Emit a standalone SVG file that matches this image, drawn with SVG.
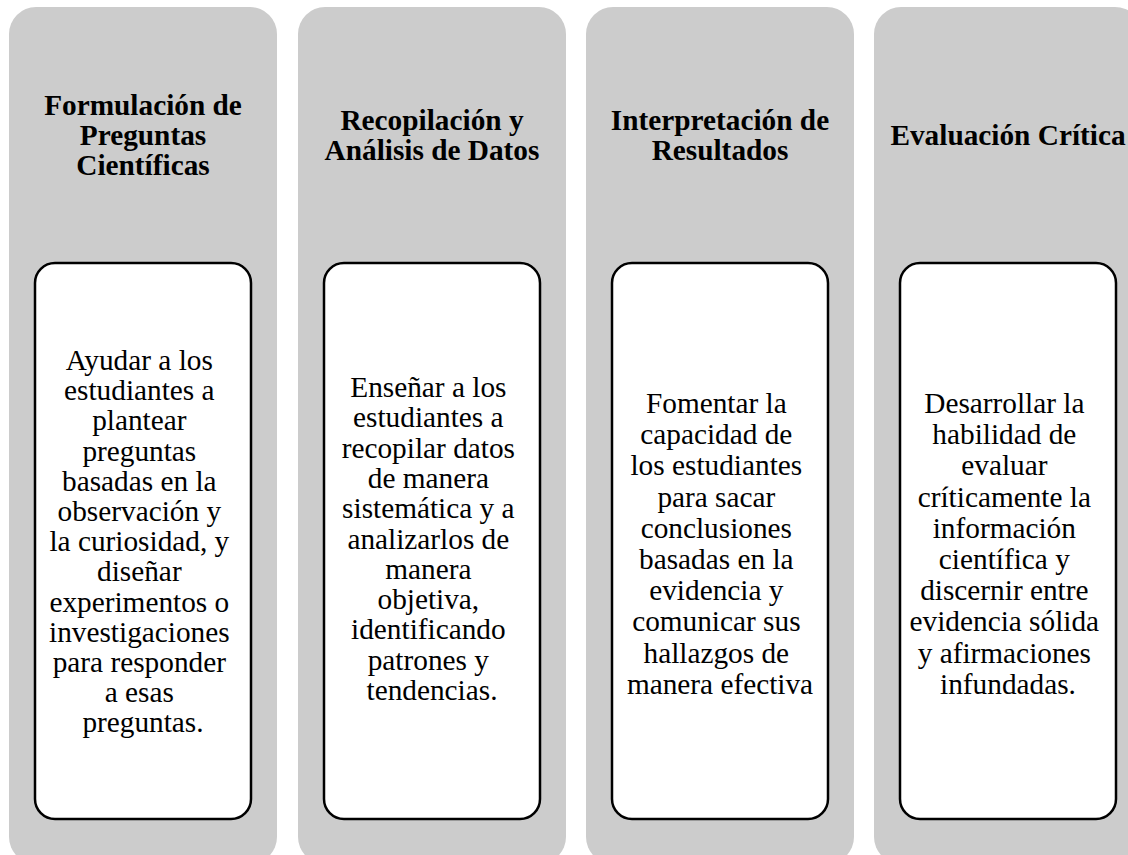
<svg xmlns="http://www.w3.org/2000/svg" width="1128" height="855" viewBox="0 0 1128 855">
<style>
.col{fill:#cccccc}
.box{fill:#ffffff;stroke:#000000;stroke-width:2.5}
.t{font-family:"Liberation Serif","Times New Roman",serif;font-size:29.3px;font-weight:bold;fill:#000;text-anchor:middle}
.b{font-family:"Liberation Serif","Times New Roman",serif;font-size:29.3px;fill:#000;text-anchor:middle}
</style>
<rect width="1128" height="855" fill="#ffffff"/>
<g id="col1">
<rect class="col" x="9" y="7" width="268" height="857" rx="27"/>
<text class="t"><tspan x="143" y="115">Formulación de</tspan><tspan x="143" y="145">Preguntas</tspan><tspan x="143" y="175">Científicas</tspan></text>
<rect class="box" x="35" y="263" width="216" height="556" rx="20"/>
<text class="b">
<tspan x="143" y="370">Ayudar a los</tspan>
<tspan x="143" y="400.2">estudiantes a</tspan>
<tspan x="143" y="430.4">plantear</tspan>
<tspan x="143" y="460.6">preguntas</tspan>
<tspan x="143" y="490.8">basadas en la</tspan>
<tspan x="143" y="521">observación y</tspan>
<tspan x="143" y="551.2">la curiosidad, y</tspan>
<tspan x="143" y="581.4">diseñar</tspan>
<tspan x="143" y="611.6">experimentos o</tspan>
<tspan x="143" y="641.8">investigaciones</tspan>
<tspan x="143" y="672">para responder</tspan>
<tspan x="143" y="702.2">a esas</tspan>
<tspan x="143" y="732.4">preguntas.</tspan>
</text>
</g>
<g id="col2">
<rect class="col" x="298" y="7" width="268" height="857" rx="27"/>
<text class="t"><tspan x="432" y="130">Recopilación y</tspan><tspan x="432" y="160">Análisis de Datos</tspan></text>
<rect class="box" x="324" y="263" width="216" height="556" rx="20"/>
<text class="b">
<tspan x="432" y="397">Enseñar a los</tspan>
<tspan x="432" y="427.3">estudiantes a</tspan>
<tspan x="432" y="457.6">recopilar datos</tspan>
<tspan x="432" y="487.9">de manera</tspan>
<tspan x="432" y="518.2">sistemática y a</tspan>
<tspan x="432" y="548.5">analizarlos de</tspan>
<tspan x="432" y="578.8">manera</tspan>
<tspan x="432" y="609.1">objetiva,</tspan>
<tspan x="432" y="639.4">identificando</tspan>
<tspan x="432" y="669.7">patrones y</tspan>
<tspan x="432" y="700">tendencias.</tspan>
</text>
</g>
<g id="col3">
<rect class="col" x="586" y="7" width="268" height="857" rx="27"/>
<text class="t"><tspan x="720" y="130">Interpretación de</tspan><tspan x="720" y="160">Resultados</tspan></text>
<rect class="box" x="612" y="263" width="216" height="556" rx="20"/>
<text class="b">
<tspan x="720" y="413">Fomentar la</tspan>
<tspan x="720" y="444.2">capacidad de</tspan>
<tspan x="720" y="475.4">los estudiantes</tspan>
<tspan x="720" y="506.6">para sacar</tspan>
<tspan x="720" y="537.8">conclusiones</tspan>
<tspan x="720" y="569">basadas en la</tspan>
<tspan x="720" y="600.2">evidencia y</tspan>
<tspan x="720" y="631.4">comunicar sus</tspan>
<tspan x="720" y="662.6">hallazgos de</tspan>
<tspan x="720" y="693.8">manera efectiva</tspan>
</text>
</g>
<g id="col4">
<rect class="col" x="874" y="7" width="268" height="857" rx="27"/>
<text class="t"><tspan x="1008" y="145">Evaluación Crítica</tspan></text>
<rect class="box" x="900" y="263" width="216" height="556" rx="20"/>
<text class="b">
<tspan x="1008" y="413">Desarrollar la</tspan>
<tspan x="1008" y="444.2">habilidad de</tspan>
<tspan x="1008" y="475.4">evaluar</tspan>
<tspan x="1008" y="506.6">críticamente la</tspan>
<tspan x="1008" y="537.8">información</tspan>
<tspan x="1008" y="569">científica y</tspan>
<tspan x="1008" y="600.2">discernir entre</tspan>
<tspan x="1008" y="631.4">evidencia sólida</tspan>
<tspan x="1008" y="662.6">y afirmaciones</tspan>
<tspan x="1008" y="693.8">infundadas.</tspan>
</text>
</g>
<g id="connectors"/>
</svg>
